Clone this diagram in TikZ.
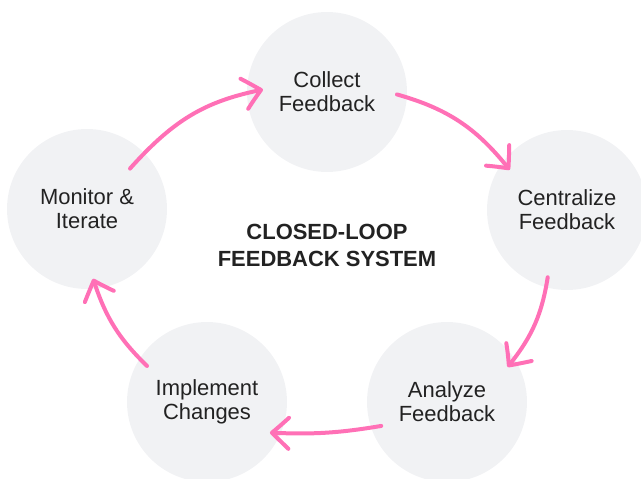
\documentclass[tikz,border=0pt]{standalone}
\usepackage{fontspec}
\setmainfont{Liberation Sans}
\usetikzlibrary{arrows.meta, bending}
\definecolor{loopgray}{HTML}{F1F2F4}
\definecolor{looppink}{HTML}{FF70B6}
\definecolor{looptext}{HTML}{222222}

\begin{document}
\begin{tikzpicture}[x=0.02cm, y=0.02cm,
    stage/.style={circle, fill=loopgray, minimum size=3.2cm, inner sep=0pt, outer sep=-0.2cm,
        align=center, text=looptext, font=\fontsize{12.5}{13.6}\selectfont},
    flow/.style={looppink, line width=0.08cm, line cap=round,
        -{Straight Barb[length=0.34cm, width=0.62cm, round, bend]}}]
    \clip (0,0) rectangle (641,-479);
    % Stages around the loop
    \foreach \n/\x/\y/\txt in {col/327/92/Collect\\Feedback, cen/567/210/Centralize\\Feedback,
        ana/447/402/Analyze\\Feedback, imp/207/402/Implement\\Changes, mon/87/209/Monitor \&\\Iterate} {
        \node[stage] (\n) at (\x,-\y) {\txt};
    }
    % Title in the middle
    \node[font=\bfseries\fontsize{12.5}{15.3}\selectfont, text=looptext, align=center]
        (title) at (327,-245.5) {CLOSED-LOOP\\FEEDBACK SYSTEM};
    % Loop arrows
    \draw[flow, shorten <=-0.22cm, shorten >=-0.12cm] (mon.44) to[bend left=18] (col.179);
    \draw[flow] (col.358) to[bend left=18] (cen.145);
    \draw[flow] (cen.254) to[bend left=15] (ana.30);
    \draw[flow] (ana.200) to[bend left=6] (imp.334);
    \draw[flow] (imp.149) to[bend left=14] (mon.275);
\end{tikzpicture}
\end{document}
